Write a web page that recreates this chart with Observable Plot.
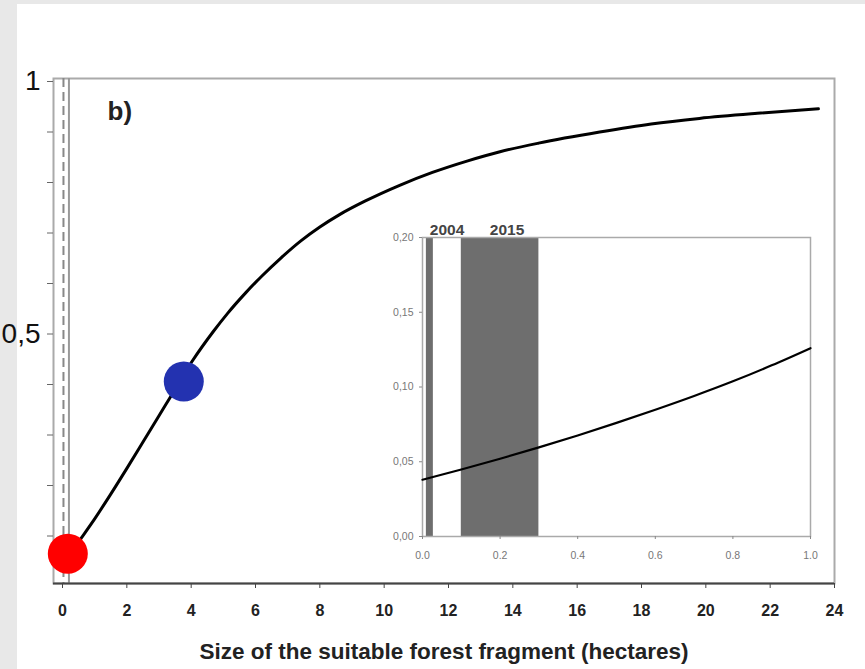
<!DOCTYPE html>
<html><head><meta charset="utf-8">
<script src="https://cdn.jsdelivr.net/npm/d3@7"></script>
<script src="https://cdn.jsdelivr.net/npm/@observablehq/plot@0.6"></script>
<style>
body{margin:0;background:#e8e8e8;width:865px;height:669px;position:relative;overflow:hidden;font-family:"Liberation Sans",Arial,sans-serif}
#panel{position:absolute;left:17px;top:4px;width:848px;height:665px;background:#fff}
#main{position:absolute;left:0;top:0}
#inset{position:absolute;left:370px;top:210px}
</style></head>
<body><div id="panel"></div><div id="main"></div><div id="inset"></div>
<script>
// ---- main curve (hectares vs probability) ----
const curveX = [0, 0.56, 1, 1.49, 2.02, 2.53, 3.0, 3.36, 4.03, 4.7, 5.12, 5.7, 6.2, 6.78, 7.4, 8.0, 8.6, 9.4, 10.5, 11.5, 12.6, 13.6, 14.8, 16.7, 18.3, 19.8, 21.6, 23.5];
const curveY = [0.038, 0.088, 0.128, 0.176, 0.23, 0.283, 0.332, 0.37, 0.44, 0.5, 0.534, 0.576, 0.609, 0.644, 0.678, 0.706, 0.73, 0.757, 0.789, 0.814, 0.837, 0.855, 0.872, 0.894, 0.91, 0.921, 0.931, 0.94];
// highlighted points
const pointX = [0.165, 3.77];
const pointY = [0.059, 0.40];
const pointColor = ["#ff0000", "#2332b0"];
// threshold lines near zero
const thresholdX = [0.03, 0.2];
const thresholdDash = ["dashed", "solid"];
// main axes
const xTicks = [0, 2, 4, 6, 8, 10, 12, 14, 16, 18, 20, 22, 24];
const yTicks = [0.1, 0.2, 0.3, 0.4, 0.5, 0.6, 0.7, 0.8, 0.9, 1];
const yLabelValues = [1, 0.5];
const yLabelTexts = ["1", "0,5"];
const xTitle = "Size of the suitable forest fragment (hectares)";
const panelLabel = "b)";

// ---- inset ----
const insetX = [0, 0.1, 0.2, 0.3, 0.4, 0.5, 0.6, 0.7, 0.8, 0.9, 1.0];
const insetY = [0.038, 0.0448, 0.052, 0.0596, 0.0676, 0.076, 0.0848, 0.094, 0.1038, 0.1145, 0.126];
const barYears = ["2004", "2015"];
const barStart = [0.01, 0.1];
const barEnd = [0.028, 0.3];
const insetYMax = 0.2;
const insetXTicks = [0, 0.2, 0.4, 0.6, 0.8, 1.0];
const insetYTicks = [0, 0.05, 0.1, 0.15, 0.2];

const font = "Liberation Sans, Arial, sans-serif";
const curve = curveX.map((x, i) => ({x, y: curveY[i]}));
const points = pointX.map((x, i) => ({x, y: pointY[i], c: pointColor[i]}));
const thresholds = thresholdX.map((x, i) => ({x, style: thresholdDash[i]}));

const main = Plot.plot({
  width: 865, height: 669,
  marginLeft: 53, marginRight: 31, marginTop: 78, marginBottom: 86,
  style: {background: "transparent", overflow: "visible", fontFamily: font},
  x: {domain: [-0.28, 24]},
  y: {domain: [0, 1]},
  marks: [
    Plot.frame({stroke: "#aaa", strokeWidth: 2}),
    Plot.ruleX(thresholds.filter(d => d.style === "dashed"), {x: "x", stroke: "#888", strokeWidth: 2, strokeDasharray: "9,5"}),
    Plot.ruleX(thresholds.filter(d => d.style === "solid"), {x: "x", stroke: "#999", strokeWidth: 2}),
    Plot.ruleY([0], {stroke: "#444", strokeWidth: 2}),
    Plot.axisY({ticks: yTicks, tickSize: 6, tickPadding: 7, stroke: "#666", fill: "#111", fontSize: 28, dy: 3, label: null,
      tickFormat: d => { const i = yLabelValues.findIndex(v => Math.abs(v - d) < 1e-9); return i >= 0 ? yLabelTexts[i] : ""; }}),
    Plot.axisX({ticks: xTicks, tickSize: 5, tickPadding: 16, stroke: "#444", fill: "#222", fontSize: 16, fontWeight: "bold", label: null, tickFormat: d => String(d)}),
    Plot.line(curve, {x: "x", y: "y", stroke: "#000", strokeWidth: 3, curve: "monotone-x"}),
    Plot.dot(points, {x: "x", y: "y", r: 20, fill: "c", stroke: "none"}),
    Plot.text([panelLabel], {frameAnchor: "top-left", textAnchor: "start", lineAnchor: "middle", dx: 54, dy: 33, fontSize: 26, fontWeight: "bold", fill: "#222"}),
    Plot.text([xTitle], {frameAnchor: "bottom", textAnchor: "middle", lineAnchor: "middle", dy: 68, fontSize: 22.5, fontWeight: "bold", fill: "#222"})
  ]
});
document.getElementById("main").appendChild(main);

const insetCurve = insetX.map((x, i) => ({x, y: insetY[i]}));
const bars = barYears.map((year, i) => ({year, start: barStart[i], end: barEnd[i], top: insetYMax, mid: (barStart[i] + barEnd[i]) / 2}));

const inset = Plot.plot({
  width: 460, height: 360,
  marginLeft: 52, marginRight: 20, marginTop: 27, marginBottom: 34,
  style: {background: "transparent", overflow: "visible", fontFamily: font},
  x: {domain: [0, 1]},
  y: {domain: [0, insetYMax]},
  marks: [
    Plot.rect(bars, {x1: "start", x2: "end", y1: 0, y2: "top", fill: "#6e6e6e"}),
    Plot.frame({stroke: "#aaa", strokeWidth: 1.5}),
    Plot.axisY({ticks: insetYTicks, tickSize: 3, tickPadding: 6, stroke: "#888", fill: "#777", fontSize: 10.5, label: null,
      tickFormat: d => d.toFixed(2).replace(".", ",")}),
    Plot.axisX({ticks: insetXTicks, tickSize: 3, tickPadding: 12, stroke: "#888", fill: "#777", fontSize: 10.5, label: null,
      tickFormat: d => d.toFixed(1)}),
    Plot.line(insetCurve, {x: "x", y: "y", stroke: "#000", strokeWidth: 2.2, curve: "monotone-x"}),
    Plot.text(bars.filter(d => d.year === "2004"), {x: "mid", y: "top", text: "year", textAnchor: "start", lineAnchor: "bottom", dy: -3, fontSize: 15.5, fontWeight: "bold", fill: "#444"}),
    Plot.text(bars.filter(d => d.year === "2015"), {x: "mid", y: "top", text: "year", textAnchor: "middle", dx: 7, lineAnchor: "bottom", dy: -3, fontSize: 15.5, fontWeight: "bold", fill: "#444"})
  ]
});
document.getElementById("inset").appendChild(inset);
</script>
</body></html>
